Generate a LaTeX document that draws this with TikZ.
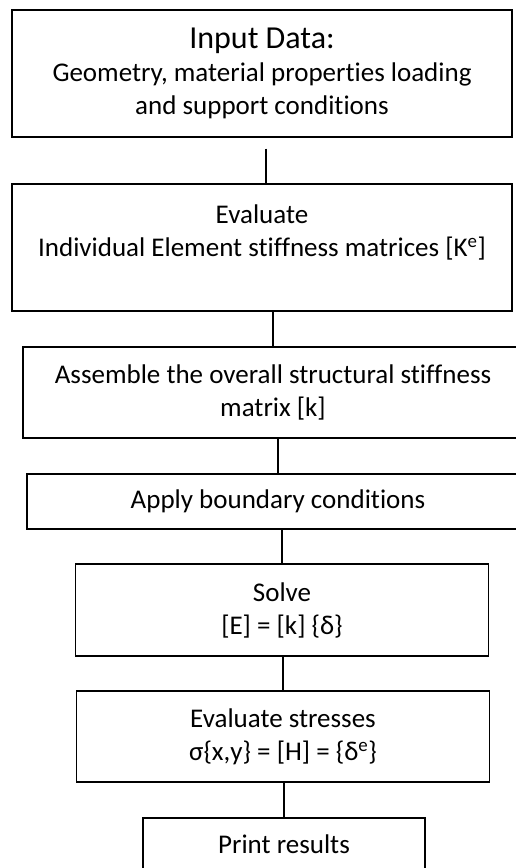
\documentclass[tikz,border=0pt]{standalone}
\usepackage{fontspec}
\setmainfont[Ligatures={NoCommon,NoContextual},RawFeature={-liga}]{Carlito}
\usetikzlibrary{positioning}

\begin{document}
\begin{tikzpicture}[x=1pt,y=-1pt,
  every node/.style={font=\fontsize{27}{33}\selectfont},
  flowbox/.style={draw,line width=1.3pt,inner sep=0pt,align=center},
  link/.style={line width=1.5pt}]
\useasboundingbox (0,0) rectangle (516,868);
\clip (0,0) rectangle (516,868);
\node[flowbox,minimum width=500,minimum height=127] (input) at (262,73.5)
  {{\fontsize{32}{33}\selectfont Input Data:}\\Geometry, material properties loading\\and support conditions};
\node[flowbox,minimum width=500,minimum height=127] (evaluate) at (262,247.5)
  {Evaluate\\Individual Element stiffness matrices [K\textsuperscript{e}]\\ \mbox{}};
\node[flowbox,minimum width=500,minimum height=91] (assemble) at (273,392.5)
  {Assemble the overall structural stiffness\\matrix [k]};
\node[flowbox,minimum width=502,minimum height=55] (boundary) at (278,501.5)
  {Apply boundary conditions};
\node[flowbox,minimum width=413,minimum height=92] (solve) at (282,610)
  {Solve\\{[E] = [k] \{δ\}}};
\node[flowbox,minimum width=413,minimum height=91] (stresses) at (283,736.5)
  {Evaluate stresses\\{σ\{x,y\} = [H] = \{δ\textsuperscript{e}\}}};
\node[flowbox,minimum width=282,minimum height=52] (results) at (284,844)
  {Print results};
\draw[link] ([xshift=4pt,yshift=-11pt]input.south) -- ([xshift=4pt]evaluate.north);
\foreach \a/\b in {evaluate/assemble,assemble/boundary,boundary/solve,solve/stresses,stresses/results}
  \draw[link] (\a.south -| \b.north) -- (\b.north);
\end{tikzpicture}
\end{document}
